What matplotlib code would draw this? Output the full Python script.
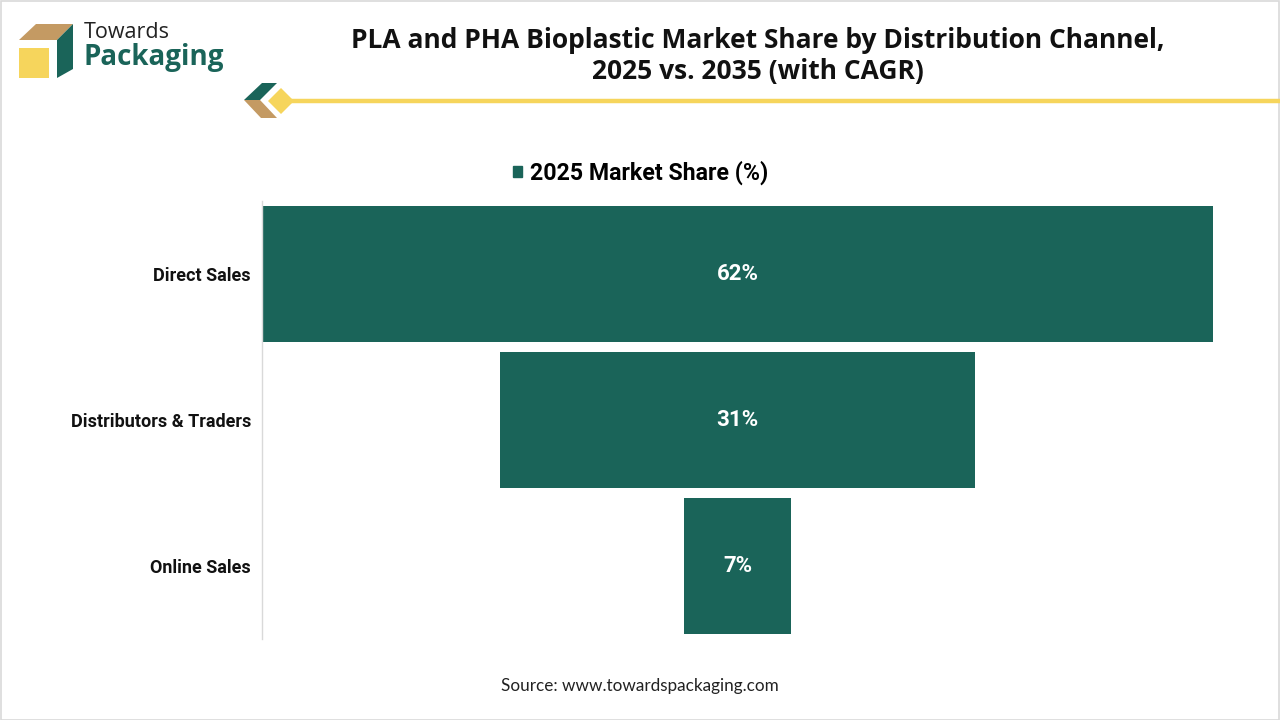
import matplotlib
matplotlib.use("Agg")
import matplotlib.pyplot as plt
from matplotlib.patches import Polygon, Rectangle
from matplotlib.lines import Line2D

categories = ["Direct Sales", "Distributors & Traders", "Online Sales"]
share_2025 = [62, 31, 7]
value_labels = ["62%", "31%", "7%"]
series_name = "2025 Market Share (%)"
title = "PLA and PHA Bioplastic Market Share by Distribution Channel,\n2025 vs. 2035 (with CAGR)"
source = "Source: www.towardspackaging.com"

GREEN = "#1A6459"
GOLD = "#F6D55C"
TAN = "#C49A63"

W, H = 1280, 720
fig = plt.figure(figsize=(W / 100, H / 100), dpi=100)
fig.patch.set_facecolor("white")

def P(x, y):
    return (x / W, 1 - y / H)

# border
fig.add_artist(Rectangle((0.5 / W, 0.5 / H), 1 - 1.5 / W, 1 - 1.5 / H, transform=fig.transFigure,
                         fill=False, edgecolor="#D9D9D9", linewidth=1.2))

# logo
fig.add_artist(Polygon([P(19, 48), P(49, 48), P(49, 78), P(19, 78)], closed=True,
                       transform=fig.transFigure, facecolor=GOLD, edgecolor="none"))
fig.add_artist(Polygon([P(19, 40), P(36, 24), P(73, 24), P(57, 40)], closed=True,
                       transform=fig.transFigure, facecolor=TAN, edgecolor="none"))
fig.add_artist(Polygon([P(57, 40), P(73, 24), P(73, 69), P(57, 78)], closed=True,
                       transform=fig.transFigure, facecolor=GREEN, edgecolor="none"))
fig.text(*P(84, 32), "Towards", fontsize=15.5, color="#222222", family="Open Sans",
         ha="left", va="center")
fig.text(*P(84, 58), "Packaging", fontsize=20, color=GREEN, family="Open Sans",
         fontweight="bold", ha="left", va="center")

# decoration and gold line
fig.add_artist(Line2D([290 / W, 1], [1 - 101 / H, 1 - 101 / H], transform=fig.transFigure,
                      color=GOLD, linewidth=3.2, solid_capstyle="butt"))
fig.add_artist(Polygon([P(244, 100), P(262, 83), P(277, 83), P(260, 100)], closed=True,
                       transform=fig.transFigure, facecolor=GREEN, edgecolor="none"))
fig.add_artist(Polygon([P(244, 100), P(260, 100), P(277, 118), P(261, 118)], closed=True,
                       transform=fig.transFigure, facecolor=TAN, edgecolor="none"))
fig.add_artist(Polygon([P(281, 88), P(294, 101), P(281, 114), P(268, 101)], closed=True,
                       transform=fig.transFigure, facecolor=GOLD, edgecolor="none"))

# title
fig.text(*P(758, 56), title, fontsize=19, fontweight="bold", family="Open Sans",
         ha="center", va="center", color="#111111", linespacing=1.2)

# axes
ax_left, ax_right = 262, 1213
ax_top, ax_bottom = 201, 639
ax = fig.add_axes([ax_left / W, 1 - ax_bottom / H, (ax_right - ax_left) / W, (ax_bottom - ax_top) / H])
maxv = max(share_2025)
ax.set_xlim(-maxv / 2, maxv / 2)
n = len(categories)
ax.set_ylim(n - 0.5, -0.5)
ys = list(range(n))
lefts = [-v / 2 for v in share_2025]
bars = ax.barh(ys, share_2025, left=lefts, height=0.932, color=GREEN, label=series_name)
for y, lab in zip(ys, value_labels):
    ax.text(0, y, lab, ha="center", va="center", color="white", fontsize=16,
            fontweight="bold", family="Roboto")
ax.set_yticks(ys)
ax.set_yticklabels(categories, fontsize=13, fontweight="bold", family="Roboto", color="#111111")
ax.tick_params(axis="y", length=0, pad=8)
ax.set_xticks([])
for s in ["top", "right", "bottom"]:
    ax.spines[s].set_visible(False)
ax.spines["left"].set_color("#D9D9D9")
ax.spines["left"].set_linewidth(1)

# legend
leg = fig.legend(handles=[Rectangle((0, 0), 1, 1, color=GREEN)], labels=[series_name],
                 loc="center", bbox_to_anchor=P(641, 173), frameon=False,
                 prop={"family": "Roboto", "weight": "bold", "size": 16.7},
                 handlelength=0.38, handleheight=0.38, handletextpad=0.35)

fig.text(*P(640, 686), source, fontsize=12.3, family="Lato", ha="center", va="center", color="#222222")

fig.savefig("out.png", dpi=100, facecolor="white")
